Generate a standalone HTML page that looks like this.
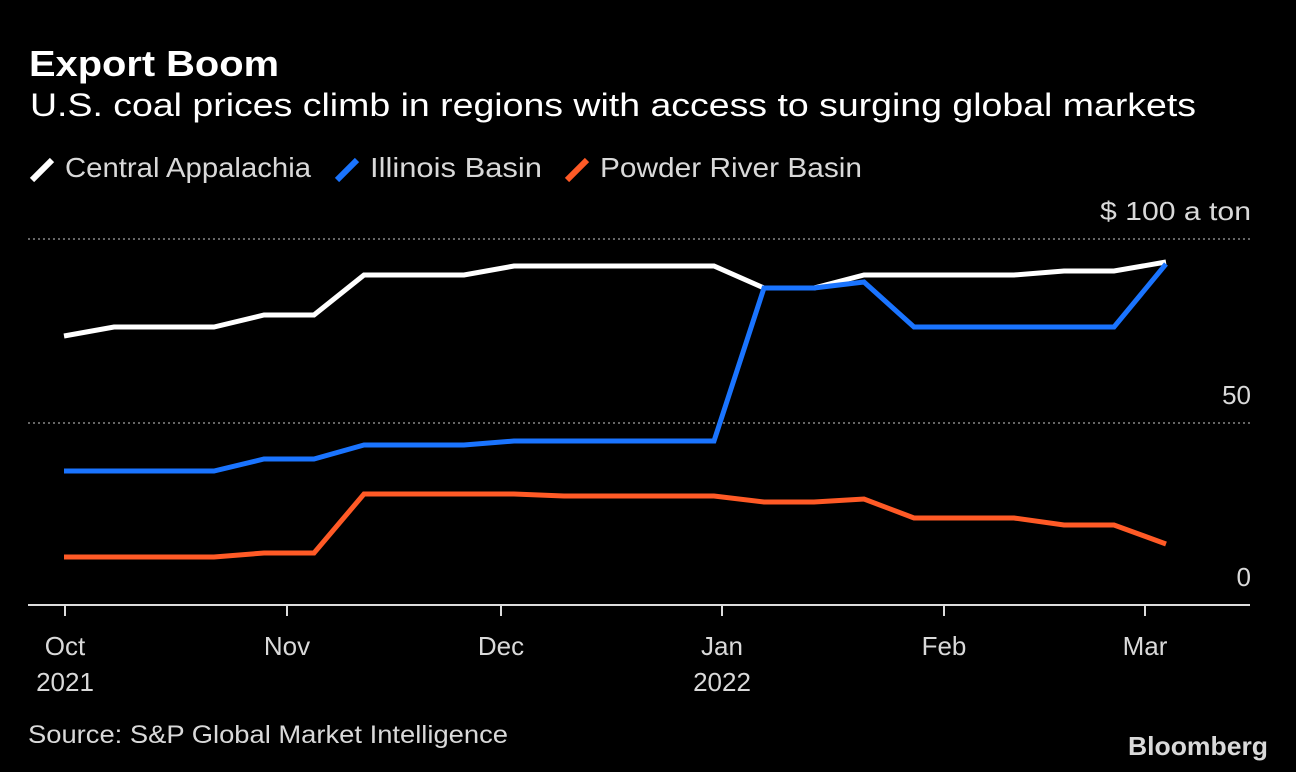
<!DOCTYPE html>
<html><head><meta charset="utf-8"><style>
html,body{margin:0;padding:0;background:#000;}
svg{display:block;}
text{font-family:"Liberation Sans",sans-serif;}
</style></head><body>
<svg width="1296" height="772" viewBox="0 0 1296 772" xmlns="http://www.w3.org/2000/svg">
<rect width="1296" height="772" fill="#000"/>
<text x="29" y="76" fill="#fff" font-size="36" font-weight="bold" textLength="250" lengthAdjust="spacingAndGlyphs">Export Boom</text>
<text x="30" y="116" fill="#fff" font-size="32" textLength="1166" lengthAdjust="spacingAndGlyphs">U.S. coal prices climb in regions with access to surging global markets</text>
<g stroke-width="6" stroke-linecap="butt">
<line x1="32" y1="180" x2="52" y2="160" stroke="#fff"/>
<line x1="337" y1="180" x2="357" y2="160" stroke="#1a74ff"/>
<line x1="567" y1="180" x2="587" y2="160" stroke="#ff5a26"/>
</g>
<g fill="#d9d9d9" font-size="28">
<text x="65" y="177" textLength="246" lengthAdjust="spacingAndGlyphs">Central Appalachia</text>
<text x="370" y="177" textLength="172" lengthAdjust="spacingAndGlyphs">Illinois Basin</text>
<text x="600" y="177" textLength="262" lengthAdjust="spacingAndGlyphs">Powder River Basin</text>
</g>
<g stroke="#888" stroke-width="1.5" stroke-dasharray="2,3">
<line x1="28" y1="239" x2="1250" y2="239"/>
<line x1="28" y1="423" x2="1250" y2="423"/>
</g>
<g fill="#d9d9d9" font-size="26" text-anchor="end">
<text x="1251" y="220" textLength="151" lengthAdjust="spacingAndGlyphs">$ 100 a ton</text>
<text x="1251" y="404">50</text>
<text x="1251" y="586">0</text>
</g>
<line x1="28" y1="605" x2="1250" y2="605" stroke="#ddd" stroke-width="2"/>
<g stroke="#ddd" stroke-width="2">
<line x1="65" y1="605" x2="65" y2="616"/><line x1="287" y1="605" x2="287" y2="616"/>
<line x1="501" y1="605" x2="501" y2="616"/><line x1="722" y1="605" x2="722" y2="616"/>
<line x1="944" y1="605" x2="944" y2="616"/><line x1="1145" y1="605" x2="1145" y2="616"/>
</g>
<g fill="#d9d9d9" font-size="26" text-anchor="middle">
<text x="65" y="655">Oct</text><text x="65" y="691">2021</text>
<text x="287" y="655">Nov</text>
<text x="501" y="655">Dec</text>
<text x="722" y="655">Jan</text><text x="722" y="691">2022</text>
<text x="944" y="655">Feb</text>
<text x="1145" y="655">Mar</text>
</g>
<g fill="none" stroke-width="5" stroke-linejoin="miter">
<polyline stroke="#fff" points="64,336 114,327 214,327 264,315 314,315 364,275 464,275 514,266 714,266 764,288 814,288 864,275 1014,275 1064,271 1114,271 1166,262"/>
<polyline stroke="#1a74ff" points="64,471 214,471 264,459 314,459 364,445 464,445 514,441 714,441 764,288 814,288 864,282 914,327 1114,327 1166,264"/>
<polyline stroke="#ff5a26" points="64,557 214,557 264,553 314,553 364,494 514,494 564,496 714,496 764,502 814,502 864,499 914,518 1014,518 1064,525 1114,525 1166,544"/>
</g>
<text x="28" y="743" fill="#d9d9d9" font-size="25" textLength="480" lengthAdjust="spacingAndGlyphs">Source: S&amp;P Global Market Intelligence</text>
<text x="1268" y="755" fill="#d9d9d9" font-size="26" font-weight="bold" text-anchor="end" textLength="140" lengthAdjust="spacingAndGlyphs">Bloomberg</text>
</svg>
</body></html>
